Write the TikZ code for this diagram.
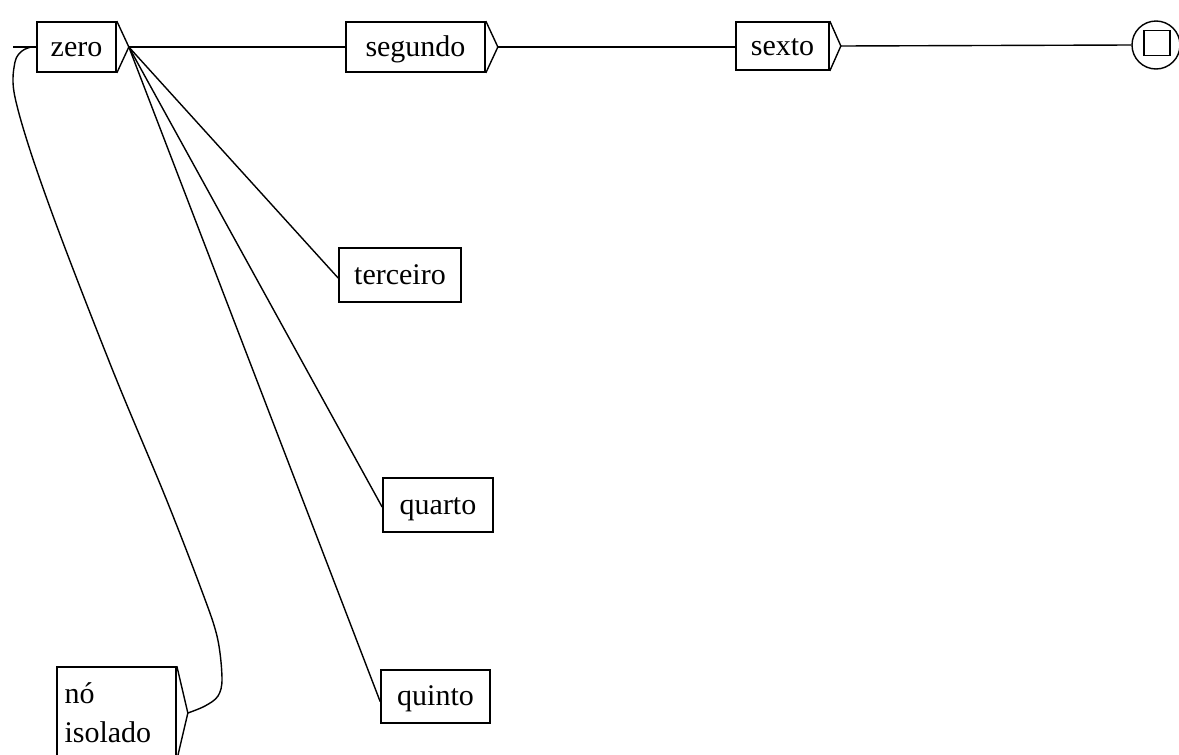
\documentclass[tikz,border=0pt]{standalone}
\usepackage{fontspec}
\setmainfont{Liberation Serif}
\begin{document}
\begin{tikzpicture}[x=1pt,y=-1pt,
  every node/.style={font=\fontsize{30}{39}\selectfont},
  box/.style={draw,line width=1.7pt,inner sep=0pt,fill=white,text height=22pt,text depth=4pt},
  wire/.style={line width=1.4pt},
  tip/.style={line width=1.4pt}]
\fill[white] (0,0) rectangle (1179,755);
\useasboundingbox (0,0) rectangle (1179,755);

% states
\node[box,minimum width=79pt,minimum height=50pt] (zero) at (76.5,47) {zero};
\node[box,minimum width=139pt,minimum height=50pt] (seg) at (415.5,47) {segundo};
\node[box,minimum width=93pt,minimum height=48pt] (sexto) at (782.5,46) {sexto};
\node[box,minimum width=122pt,minimum height=54pt] (ter) at (400,275) {terceiro};
\node[box,minimum width=110pt,minimum height=54pt] (qua) at (438,505) {quarto};
\node[box,minimum width=109pt,minimum height=53pt] (qui) at (435.5,696.5) {quinto};
\node[draw,line width=1.7pt,fill=white,inner sep=0pt,minimum width=119pt,minimum height=92pt,
      text width=104pt,inner xsep=7.5pt,align=left] (iso) at (116.5,713) {nó\\isolado};

% output markers on the right side of the boxes
\coordinate (zerotip) at ([xshift=12pt]zero.east);
\coordinate (segtip) at ([xshift=12pt]seg.east);
\coordinate (sextotip) at ([xshift=11pt]sexto.east);
\coordinate (isotip) at ([xshift=11pt]iso.east);
\draw[tip] (zero.north east) -- (zerotip) -- (zero.south east);
\draw[tip] (seg.north east) -- (segtip) -- (seg.south east);
\draw[tip] (sexto.north east) -- (sextotip) -- (sexto.south east);
\draw[tip] (iso.north east) -- (isotip) -- (iso.south east);

% final state
\node[draw,circle,line width=1.4pt,minimum size=48pt,inner sep=0pt] (fin) at (1156,45) {};
\node[draw,line width=1.7pt,minimum width=26pt,minimum height=25pt,inner sep=0pt] (finsq) at (1157,43) {};

% transitions
\coordinate (start) at (13,47);
\coordinate (entry) at (31,47);
\draw[wire] (start) -- (zero.west);
\draw[wire] (zerotip) -- (seg.west);
\draw[wire] (zerotip) -- ([yshift=-3pt]ter.west);
\draw[wire] (zerotip) -- ([yshift=-2pt]qua.west);
\draw[wire] (zerotip) -- ([yshift=-5pt]qui.west);
\draw[wire] (segtip) -- (sexto.west |- segtip);
\draw[wire] (sextotip) -- (fin.west);
\draw[wire] plot[smooth,tension=0.55] coordinates {(isotip) (205,706) (218,696) (222,678) (217,636) (200,586) (165,496) (115,376) (62,240) (30,150) (14,92) (15,62) (22,51) (entry)};
\end{tikzpicture}
\end{document}
